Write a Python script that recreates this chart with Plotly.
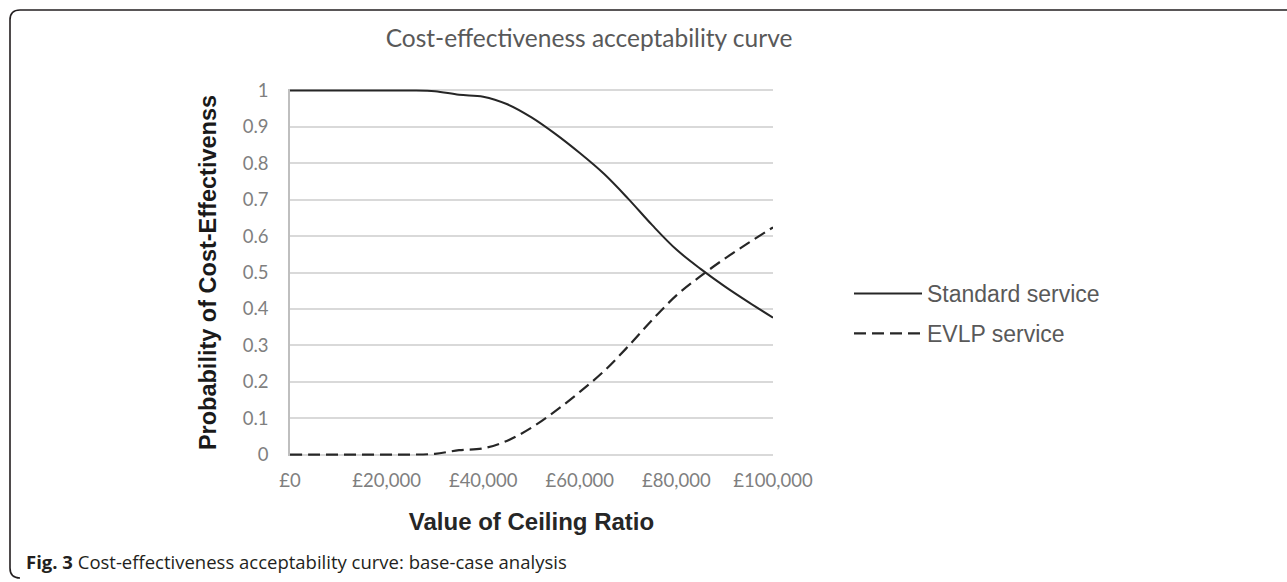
import plotly.graph_objects as go

ceiling = [0, 5000, 10000, 15000, 20000, 25000, 30000, 35000, 40000, 45000, 50000,
           55000, 60000, 65000, 70000, 75000, 80000, 85000, 90000, 95000, 100000]
standard = [1.0, 1.0, 1.0, 1.0, 1.0, 1.0, 0.998, 0.988, 0.983, 0.962, 0.926,
            0.880, 0.828, 0.771, 0.703, 0.630, 0.563, 0.510, 0.462, 0.418, 0.376]
evlp = [0.0, 0.0, 0.0, 0.0, 0.0, 0.0, 0.002, 0.012, 0.017, 0.038, 0.074,
        0.120, 0.172, 0.229, 0.297, 0.370, 0.437, 0.490, 0.538, 0.582, 0.624]
tick_vals = [0, 20000, 40000, 60000, 80000, 100000]
tick_text = ["£0", "£20,000", "£40,000", "£60,000", "£80,000", "£100,000"]
y_ticks = [0, 0.1, 0.2, 0.3, 0.4, 0.5, 0.6, 0.7, 0.8, 0.9, 1]
y_text = ["0", "0.1", "0.2", "0.3", "0.4", "0.5", "0.6", "0.7", "0.8", "0.9", "1"]

W, H = 1287, 582
L, R, T, B = 290, 773, 89, 456

fig = go.Figure()
fig.add_trace(go.Scatter(x=ceiling, y=standard, mode="lines", name="Standard service",
                         legendgroup="std",
                         line=dict(color="#262626", width=2, shape="spline", smoothing=1.0)))
fig.add_trace(go.Scatter(x=ceiling, y=evlp, mode="lines", name="EVLP service",
                         legendgroup="evlp",
                         line=dict(color="#262626", width=2.2, dash="12px,6px",
                                   shape="spline", smoothing=1.0)))


def px_x(p):
    return (p - L) / (R - L)


def px_y(p):
    return (H - p - (H - B)) / (B - T)


fig.update_layout(
    width=W, height=H,
    margin=dict(l=L, r=W - R, t=T, b=H - B, pad=0),
    paper_bgcolor="white", plot_bgcolor="white",
    showlegend=True,
    legend=dict(x=px_x(849), y=px_y(272),
                xref="paper", yref="paper", xanchor="left", yanchor="top",
                font=dict(family="Liberation Sans", size=23, color="#595959"),
                itemwidth=68, tracegroupgap=7, bgcolor="rgba(0,0,0,0)"),
    xaxis=dict(range=[0, 100000], tickmode="array", tickvals=tick_vals, ticktext=tick_text,
               showgrid=False, zeroline=False, showline=False, ticks="",
               ticklabelstandoff=11,
               tickfont=dict(family="Lato", size=18.5, color="#7f7f7f"),
               title=dict(text="<b>Value of Ceiling Ratio</b>",
                          font=dict(family="Liberation Sans", size=24, color="#262626"),
                          standoff=23)),
    yaxis=dict(range=[-0.004, 1.004], tickmode="array", tickvals=y_ticks, ticktext=y_text,
               showgrid=True, gridcolor="#d9d9d9", gridwidth=1.5, zeroline=False,
               showline=True, linecolor="#bfbfbf", linewidth=1.5, ticks="",
               ticklabelstandoff=16,
               tickfont=dict(family="Lato", size=18.5, color="#7f7f7f"),
               title=dict(text="<b>Probability of Cost-Effectivenss</b>",
                          font=dict(family="Liberation Sans", size=23.5, color="#1a1a1a"),
                          standoff=19)),
    title=dict(text="Cost-effectiveness acceptability curve",
               font=dict(family="Lato", size=24.5, color="#595959"),
               x=589 / W, xanchor="center", xref="container", y=1 - 38 / H, yanchor="middle",
               yref="container"),
)

# outer frame (top line + left line with rounded corners)
r = 10
frame = (f"M {px_x(W + 2)} {px_y(10)} L {px_x(10 + r)} {px_y(10)} "
         f"Q {px_x(10)} {px_y(10)} {px_x(10)} {px_y(10 + r)} "
         f"L {px_x(10)} {px_y(H - 4 - r)} "
         f"Q {px_x(10)} {px_y(H - 4)} {px_x(10 + r)} {px_y(H - 4)}")
fig.add_shape(type="path", path=frame, xref="paper", yref="paper",
              line=dict(color="#231f20", width=1.6), layer="above")

fig.add_annotation(text="<b>Fig. 3</b> Cost-effectiveness acceptability curve: base-case analysis",
                   xref="paper", yref="paper", x=px_x(24), y=px_y(561),
                   xanchor="left", yanchor="middle", showarrow=False,
                   font=dict(family="Open Sans", size=18.5, color="#231f20"))

fig.write_html("out.html", config={"displayModeBar": False},
               post_script="document.body.style.margin='0px';")
